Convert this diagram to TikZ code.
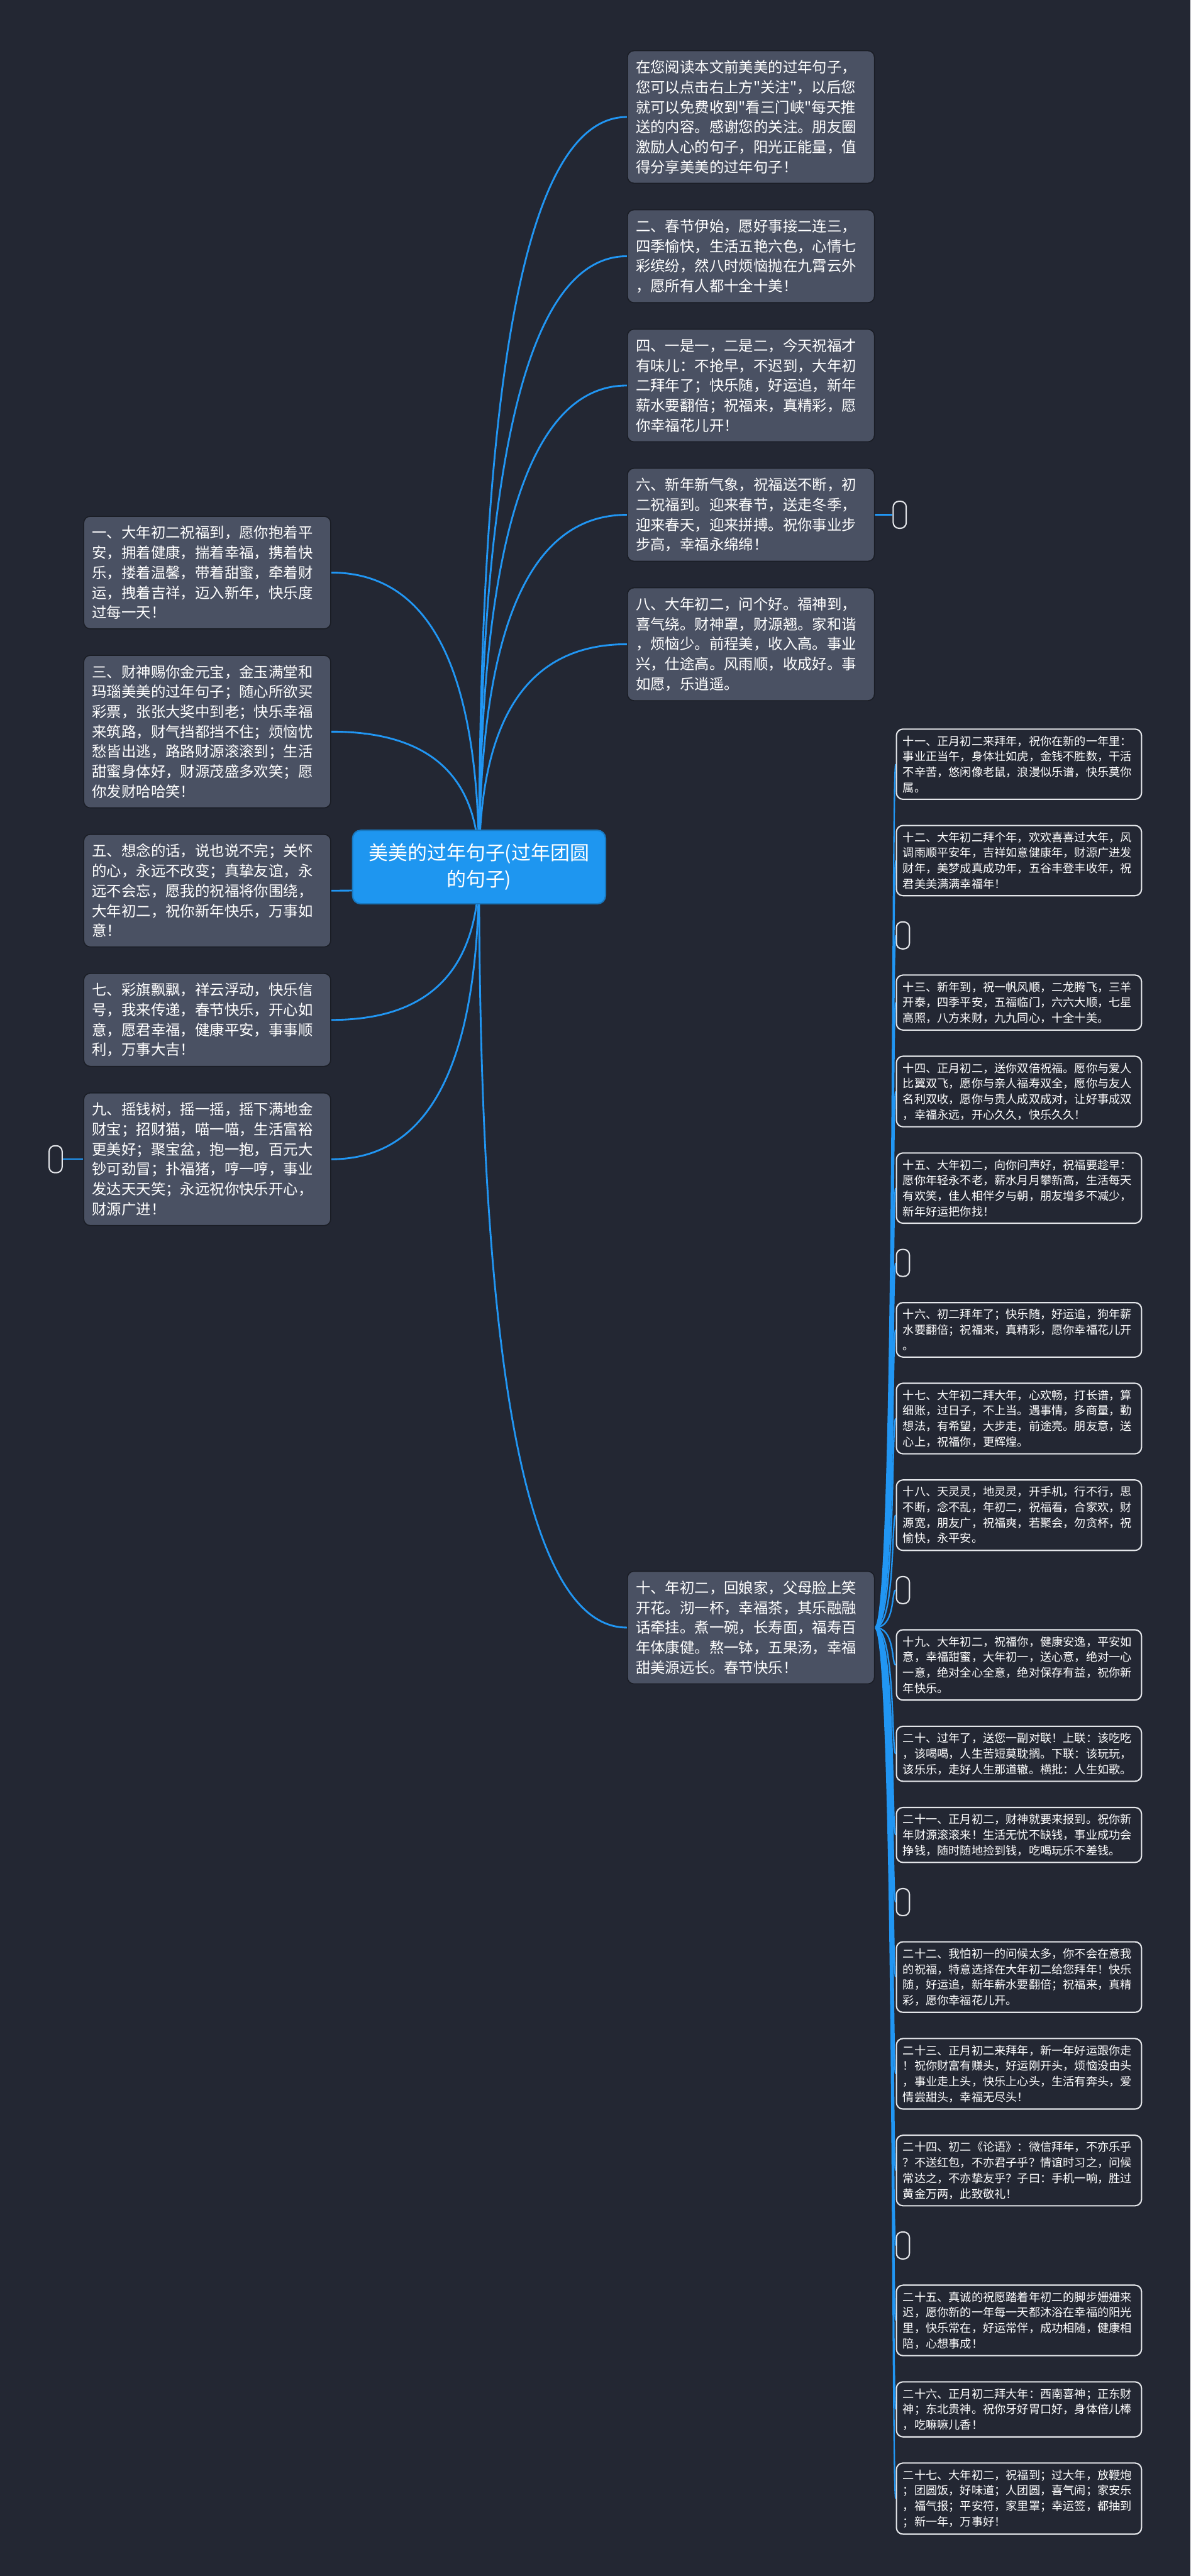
\documentclass[tikz,border=0pt]{standalone}
\usepackage{fontspec}
\usepackage{tikz}
\usetikzlibrary{
  positioning,
  calc,
  backgrounds
}
\newfontfamily\cjk{Noto Sans CJK SC}
\definecolor{mmBack}{HTML}{232733}
\definecolor{mmCard}{HTML}{4A5163}
\definecolor{mmEdge}{HTML}{1A1D25}
\definecolor{mmBlue}{HTML}{1E96F0}
\definecolor{mmLink}{HTML}{2196F3}
\definecolor{mmLine}{HTML}{E4E6EA}
\tikzset{
  rootnode/.style={
    draw=mmBlue!80!black, fill=mmBlue, rounded corners=5pt, line width=0.8pt,
    minimum width=5.44cm, minimum height=1.58cm, align=center, text=white,
    font=\cjk\fontsize{11.9pt}{16.2pt}\selectfont
  },
  wishcard/.style={
    draw=mmEdge, fill=mmCard, rounded corners=4pt, line width=0.6pt,
    text width=4.95cm, inner xsep=0.18cm, inner ysep=0.205cm, align=left,
    text=white, font=\cjk\fontsize{9pt}{12.2pt}\selectfont
  },
  subcard/.style={
    draw=mmLine, fill=mmBack, rounded corners=4pt, line width=0.8pt,
    text width=4.99cm, inner xsep=0.14cm, inner ysep=0.14cm, align=left,
    text=white, font=\cjk\fontsize{7pt}{9.5pt}\selectfont
  },
  stub/.style={
    draw=mmLine, fill=mmBack, rounded corners=3.5pt, line width=0.8pt,
    minimum width=0.28cm, minimum height=0.58cm, inner sep=0pt
  },
  link/.style={draw=mmLink, line width=1.1pt},
  sublink/.style={draw=mmLink, line width=0.9pt},
  branch/.style={to path={
    .. controls ($(\tikztostart)!0.67!(\tikztostart |- \tikztotarget)$)
    and ($(\tikztotarget)!0.67!(\tikztostart |- \tikztotarget)$) .. (\tikztotarget)}},
  fan/.style={to path={.. controls +(0.45,0) and +(-0.1,0) .. (\tikztotarget)}}
}

\begin{document}
\begin{tikzpicture}[node distance=5.5mm]
  \useasboundingbox (0,0) rectangle (25.6,-55.38);
  \node[rootnode] (root) at (10.30,-18.64) {美美的过年句子(过年团圆\\的句子)};

  % right side
  \node[wishcard, anchor=north west] (w0) at (13.48,-1.08) {在您阅读本文前美美的过年句子，\\您可以点击右上方"关注"，以后您\\就可以免费收到"看三门峡"每天推\\送的内容。感谢您的关注。朋友圈\\激励人心的句子，阳光正能量，值\\得分享美美的过年句子！};
  \node[wishcard, below=of w0] (w2) {二、春节伊始，愿好事接二连三，\\四季愉快，生活五艳六色，心情七\\彩缤纷，然八时烦恼抛在九霄云外\\，愿所有人都十全十美！};
  \node[wishcard, below=of w2] (w4) {四、一是一，二是二，今天祝福才\\有味儿：不抢早，不迟到，大年初\\二拜年了；快乐随，好运追，新年\\薪水要翻倍；祝福来，真精彩，愿\\你幸福花儿开！};
  \node[wishcard, below=of w4] (w6) {六、新年新气象，祝福送不断，初\\二祝福到。迎来春节，送走冬季，\\迎来春天，迎来拼搏。祝你事业步\\步高，幸福永绵绵！};
  \node[wishcard, below=of w6] (w8) {八、大年初二，问个好。福神到，\\喜气绕。财神罩，财源翘。家和谐\\，烦恼少。前程美，收入高。事业\\兴，仕途高。风雨顺，收成好。事\\如愿，乐逍遥。};
  \node[stub, right=3.8mm of w6] (s6) {};
  \node[wishcard, anchor=west] (w10) at (13.48,-34.99) {十、年初二，回娘家，父母脸上笑\\开花。沏一杯，幸福茶，其乐融融\\话牵挂。煮一碗，长寿面，福寿百\\年体康健。熬一钵，五果汤，幸福\\甜美源远长。春节快乐！};

  % left side
  \node[wishcard, anchor=north west] (w1) at (1.79,-11.09) {一、大年初二祝福到，愿你抱着平\\安，拥着健康，揣着幸福，携着快\\乐，搂着温馨，带着甜蜜，牵着财\\运，拽着吉祥，迈入新年，快乐度\\过每一天！};
  \node[wishcard, below=of w1] (w3) {三、财神赐你金元宝，金玉满堂和\\玛瑙美美的过年句子；随心所欲买\\彩票，张张大奖中到老；快乐幸福\\来筑路，财气挡都挡不住；烦恼忧\\愁皆出逃，路路财源滚滚到；生活\\甜蜜身体好，财源茂盛多欢笑；愿\\你发财哈哈笑！};
  \node[wishcard, below=of w3] (w5) {五、想念的话，说也说不完；关怀\\的心，永远不改变；真挚友谊，永\\远不会忘，愿我的祝福将你围绕，\\大年初二，祝你新年快乐，万事如\\意！};
  \node[wishcard, below=of w5] (w7) {七、彩旗飘飘，祥云浮动，快乐信\\号，我来传递，春节快乐，开心如\\意，愿君幸福，健康平安，事事顺\\利，万事大吉！};
  \node[wishcard, below=of w7] (w9) {九、摇钱树，摇一摇，摇下满地金\\财宝；招财猫，喵一喵，生活富裕\\更美好；聚宝盆，抱一抱，百元大\\钞可劲冒；扑福猪，哼一哼，事业\\发达天天笑；永远祝你快乐开心，\\财源广进！};
  \node[stub, left=4.4mm of w9] (s7) {};

  % children of 十
  \node[subcard, anchor=north west] (r11) at (19.26,-15.66) {十一、正月初二来拜年，祝你在新的一年里：\\事业正当午，身体壮如虎，金钱不胜数，干活\\不辛苦，悠闲像老鼠，浪漫似乐谱，快乐莫你\\属。};
  \node[subcard, below=5.35mm of r11.south west, anchor=north west] (r12) {十二、大年初二拜个年，欢欢喜喜过大年，风\\调雨顺平安年，吉祥如意健康年，财源广进发\\财年，美梦成真成功年，五谷丰登丰收年，祝\\君美美满满幸福年！};
  \node[stub, below=5.35mm of r12.south west, anchor=north west] (s1) {};
  \node[subcard, below=5.35mm of s1.south west, anchor=north west] (r13) {十三、新年到，祝一帆风顺，二龙腾飞，三羊\\开泰，四季平安，五福临门，六六大顺，七星\\高照，八方来财，九九同心，十全十美。};
  \node[subcard, below=5.35mm of r13.south west, anchor=north west] (r14) {十四、正月初二，送你双倍祝福。愿你与爱人\\比翼双飞，愿你与亲人福寿双全，愿你与友人\\名利双收，愿你与贵人成双成对，让好事成双\\，幸福永远，开心久久，快乐久久！};
  \node[subcard, below=5.35mm of r14.south west, anchor=north west] (r15) {十五、大年初二，向你问声好，祝福要趁早：\\愿你年轻永不老，薪水月月攀新高，生活每天\\有欢笑，佳人相伴夕与朝，朋友增多不减少，\\新年好运把你找！};
  \node[stub, below=5.35mm of r15.south west, anchor=north west] (s2) {};
  \node[subcard, below=5.35mm of s2.south west, anchor=north west] (r16) {十六、初二拜年了；快乐随，好运追，狗年薪\\水要翻倍；祝福来，真精彩，愿你幸福花儿开\\。};
  \node[subcard, below=5.35mm of r16.south west, anchor=north west] (r17) {十七、大年初二拜大年，心欢畅，打长谱，算\\细账，过日子，不上当。遇事情，多商量，勤\\想法，有希望，大步走，前途亮。朋友意，送\\心上，祝福你，更辉煌。};
  \node[subcard, below=5.35mm of r17.south west, anchor=north west] (r18) {十八、天灵灵，地灵灵，开手机，行不行，思\\不断，念不乱，年初二，祝福看，合家欢，财\\源宽，朋友广，祝福爽，若聚会，勿贪杯，祝\\愉快，永平安。};
  \node[stub, below=5.35mm of r18.south west, anchor=north west] (s3) {};
  \node[subcard, below=5.35mm of s3.south west, anchor=north west] (r19) {十九、大年初二，祝福你，健康安逸，平安如\\意，幸福甜蜜，大年初一，送心意，绝对一心\\一意，绝对全心全意，绝对保存有益，祝你新\\年快乐。};
  \node[subcard, below=5.35mm of r19.south west, anchor=north west] (r20) {二十、过年了，送您一副对联！上联：该吃吃\\，该喝喝，人生苦短莫耽搁。下联：该玩玩，\\该乐乐，走好人生那道辙。横批：人生如歌。};
  \node[subcard, below=5.35mm of r20.south west, anchor=north west] (r21) {二十一、正月初二，财神就要来报到。祝你新\\年财源滚滚来！生活无忧不缺钱，事业成功会\\挣钱，随时随地捡到钱，吃喝玩乐不差钱。};
  \node[stub, below=5.35mm of r21.south west, anchor=north west] (s4) {};
  \node[subcard, below=5.35mm of s4.south west, anchor=north west] (r22) {二十二、我怕初一的问候太多，你不会在意我\\的祝福，特意选择在大年初二给您拜年！快乐\\随，好运追，新年薪水要翻倍；祝福来，真精\\彩，愿你幸福花儿开。};
  \node[subcard, below=5.35mm of r22.south west, anchor=north west] (r23) {二十三、正月初二来拜年，新一年好运跟你走\\！祝你财富有赚头，好运刚开头，烦恼没由头\\，事业走上头，快乐上心头，生活有奔头，爱\\情尝甜头，幸福无尽头！};
  \node[subcard, below=5.35mm of r23.south west, anchor=north west] (r24) {二十四、初二《论语》：微信拜年，不亦乐乎\\？不送红包，不亦君子乎？情谊时习之，问候\\常达之，不亦挚友乎？子曰：手机一响，胜过\\黄金万两，此致敬礼！};
  \node[stub, below=5.35mm of r24.south west, anchor=north west] (s5) {};
  \node[subcard, below=5.35mm of s5.south west, anchor=north west] (r25) {二十五、真诚的祝愿踏着年初二的脚步姗姗来\\迟，愿你新的一年每一天都沐浴在幸福的阳光\\里，快乐常在，好运常伴，成功相随，健康相\\陪，心想事成！};
  \node[subcard, below=5.35mm of r25.south west, anchor=north west] (r26) {二十六、正月初二拜大年：西南喜神；正东财\\神；东北贵神。祝你牙好胃口好，身体倍儿棒\\，吃嘛嘛儿香！};
  \node[subcard, below=5.35mm of r26.south west, anchor=north west] (r27) {二十七、大年初二，祝福到；过大年，放鞭炮\\；团圆饭，好味道；人团圆，喜气闹；家安乐\\，福气报；平安符，家里罩；幸运签，都抽到\\；新一年，万事好！};

  \begin{scope}[on background layer]
    \fill[mmBack] (0,0) rectangle (25.6,-55.38);
    \foreach \n in {w0,w2,w4,w6,w8,w10}
      \draw[link] (root.center) to[branch] (\n.west);
    \foreach \n in {w1,w3,w5,w7,w9}
      \draw[link] (root.center) to[branch] (\n.east);
    \foreach \n in {r11,r12,s1,r13,r14,r15,s2,r16,r17,r18,s3,r19,r20,r21,s4,r22,r23,r24,s5,r25,r26,r27}
      \draw[sublink] (w10.east) to[fan] (\n.west);
    \draw[sublink] (w6.east) -- (s6.west);
    \draw[sublink] (w9.west) -- (s7.east);
  \end{scope}
\end{tikzpicture}
\end{document}
